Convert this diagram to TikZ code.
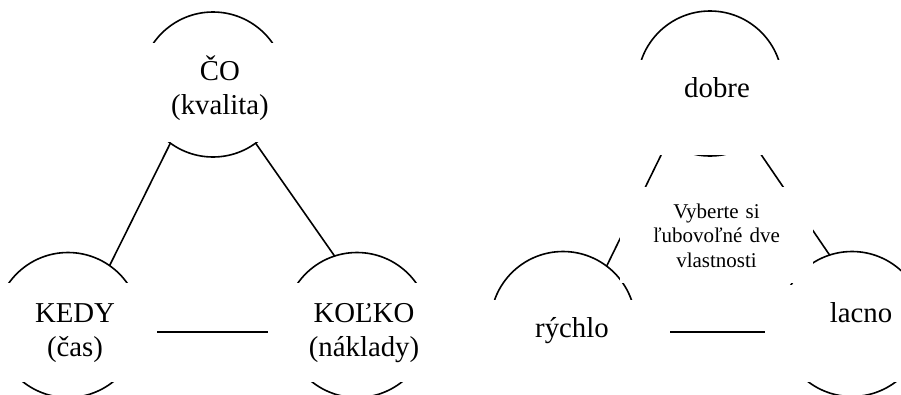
\documentclass[tikz,border=0pt]{standalone}
\usepackage{fontspec}
\setmainfont{Liberation Serif}
\begin{document}
\begin{tikzpicture}[x=1pt,y=-1pt,
 ring/.style={circle,draw,line width=1.6pt,minimum size=145pt,inner sep=0pt,outer sep=0pt},
 conn/.style={line width=1.6pt},
 box/.style={anchor=north,fill=white,inner sep=0pt,align=center},
 big/.style={font=\fontsize{28.8}{34}\selectfont},
 small/.style={font=\fontsize{21}{24.5}\selectfont}]
\useasboundingbox (0,0) rectangle (901,394);
% circles
\node[ring] (co) at (213,84.5) {};
\node[ring] (kedy) at (68,325) {};
\node[ring] (kolko) at (357,325) {};
\node[ring] (dob) at (710,83.5) {};
\node[ring] (ry) at (563,324) {};
\node[ring] (la) at (852,324) {};
% connectors
\draw[conn] (co.-126) -- (kedy.55);
\draw[conn] (co.-54) -- (kolko.108);
\draw[conn] (dob.-126) -- (ry.53);
\draw[conn] (dob.-54) -- (la.108);
\coordinate (hl1) at (157,332);
\coordinate (hl2) at (268,332);
\coordinate (hr1) at (670,332);
\coordinate (hr2) at (765,332);
\draw[conn] (hl1) -- (hl2);
\draw[conn] (hr1) -- (hr2);
% text boxes
\node[box,big,text width=164pt,text height=37pt,text depth=62pt] (coT) at (220,43) {ČO\\(kvalita)};
\node[box,big,text width=160pt,text height=39pt,text depth=60pt] (kedyT) at (75,283) {KEDY\\(čas)};
\node[box,big,text width=164pt,text height=39pt,text depth=60pt] (kolkoT) at (364,283) {KOĽKO\\(náklady)};
\node[box,big,text width=193pt,text height=37pt,text depth=58pt] (dobT) at (717,60) {dobre};
\node[box,small,text width=193pt,text height=31pt,text depth=65pt] (midT) at (716.5,187) {Vyberte si\\ľubovoľné dve\\vlastnosti};
\node[box,big,text width=166pt,text height=37pt,text depth=62pt] (ryT) at (572,300) {rýchlo};
\node[box,big,text width=166pt,text height=37pt,text depth=60pt] (laT) at (861,285) {lacno};
\end{tikzpicture}
\end{document}
